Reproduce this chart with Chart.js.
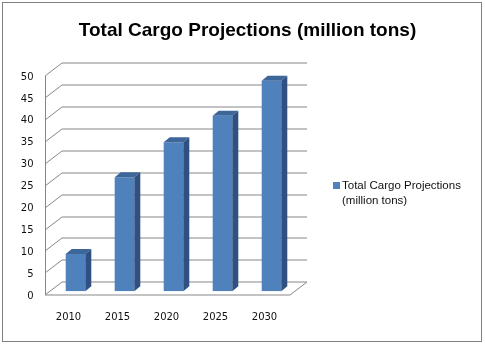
<!DOCTYPE html>
<html>
<head>
<meta charset="utf-8">
<title>Total Cargo Projections</title>
<script src="https://cdn.jsdelivr.net/npm/chart.js@4.4.1/dist/chart.umd.min.js"></script>
<style>
    html, body { margin: 0; padding: 0; background: #fff; }
    #wrap { width: 485px; height: 345px; position: relative; }
</style>
</head>
<body>
<div id="wrap"><canvas id="cargoChart"></canvas></div>
<script>
// Chart data
const years = ['2010', '2015', '2020', '2025', '2030'];
const cargoTons = [8.5, 26, 34, 40, 48];
const yTicks = [0, 5, 10, 15, 20, 25, 30, 35, 40, 45, 50];
const chartTitle = 'Total Cargo Projections (million tons)';
const seriesLabel = 'Total Cargo Projections (million tons)';
const legendLines = ['Total Cargo Projections', '(million tons)'];

// Colours
const faceColor = '#4F81BD';
const topColor = '#3D6699';
const sideColor = '#2F5080';
const gridColor = '#878787';

// 3D offsets (front axis plane, back wall plane, bar depth)
const FRONT = { dx: -6, dy: 3.5 };
const BACK = { dx: 11, dy: -9.5 };
const BAR_DEPTH = { dx: 6, dy: -5 };

// Walls, floor and grid drawn behind the bars
const wallPlugin = {
    id: 'wall3d',
    beforeDatasetsDraw(chart) {
        const { ctx, chartArea: a, scales } = chart;
        const y = scales.y;
        ctx.save();
        ctx.strokeStyle = gridColor;
        ctx.lineWidth = 1;
        ctx.beginPath();
        yTicks.forEach(v => {
            const py = Math.round(y.getPixelForValue(v)) + 0.5;
            ctx.moveTo(a.left + FRONT.dx, py + FRONT.dy);
            ctx.lineTo(a.left + BACK.dx, py + BACK.dy);
            ctx.lineTo(a.right + BACK.dx, py + BACK.dy);
        });
        // front axis line
        const y0 = Math.round(y.getPixelForValue(0)) + 0.5;
        const yMax = Math.round(y.getPixelForValue(50)) + 0.5;
        const fx = Math.round(a.left + FRONT.dx) + 0.5;
        ctx.moveTo(fx, yMax + FRONT.dy);
        ctx.lineTo(fx, y0 + FRONT.dy);
        // floor front edge and right edge
        ctx.moveTo(a.left + FRONT.dx, y0 + FRONT.dy);
        ctx.lineTo(a.right + FRONT.dx, y0 + FRONT.dy);
        ctx.lineTo(a.right + BACK.dx, y0 + BACK.dy);
        ctx.stroke();
        ctx.restore();
    },
    afterDatasetsDraw(chart) {
        // top and side faces of each column
        const { ctx } = chart;
        const meta = chart.getDatasetMeta(0);
        ctx.save();
        meta.data.forEach(bar => {
            const p = bar.getProps(['x', 'y', 'base', 'width'], true);
            const l = p.x - p.width / 2;
            const r = p.x + p.width / 2;
            ctx.fillStyle = topColor;
            ctx.beginPath();
            ctx.moveTo(l, p.y);
            ctx.lineTo(r, p.y);
            ctx.lineTo(r + BAR_DEPTH.dx, p.y + BAR_DEPTH.dy);
            ctx.lineTo(l + BAR_DEPTH.dx, p.y + BAR_DEPTH.dy);
            ctx.closePath();
            ctx.fill();
            ctx.fillStyle = sideColor;
            ctx.beginPath();
            ctx.moveTo(r, p.y);
            ctx.lineTo(r + BAR_DEPTH.dx, p.y + BAR_DEPTH.dy);
            ctx.lineTo(r + BAR_DEPTH.dx, p.base + BAR_DEPTH.dy);
            ctx.lineTo(r, p.base);
            ctx.closePath();
            ctx.fill();
        });
        ctx.restore();
    }
};

// Title, legend and outer frame
const decorPlugin = {
    id: 'decor',
    beforeDraw(chart) {
        const { ctx, width, height } = chart;
        ctx.save();
        ctx.fillStyle = '#fff';
        ctx.fillRect(0, 0, width, height);
        ctx.restore();
    },
    afterDraw(chart) {
        const { ctx } = chart;
        ctx.save();
        ctx.strokeStyle = '#808080';
        ctx.lineWidth = 1;
        ctx.strokeRect(2.5, 2.5, 479, 339);

        ctx.fillStyle = '#000';
        ctx.font = 'bold 19px "Liberation Sans", Arial, sans-serif';
        ctx.textAlign = 'center';
        ctx.textBaseline = 'alphabetic';
        ctx.fillText(chartTitle, 247.5, 36);

        ctx.fillStyle = chart.data.datasets[0].backgroundColor;
        ctx.fillRect(333, 182, 7, 7);
        ctx.fillStyle = '#111';
        ctx.font = '11.5px "Liberation Sans", Arial, sans-serif';
        ctx.textAlign = 'left';
        ctx.textBaseline = 'middle';
        legendLines.forEach((line, i) => ctx.fillText(line, 342, 186 + i * 14.5));
        ctx.restore();
    }
};

const ctx = document.getElementById('cargoChart').getContext('2d');
new Chart(ctx, {
    type: 'bar',
    data: {
        labels: years,
        datasets: [{
            label: seriesLabel,
            data: cargoTons,
            backgroundColor: faceColor,
            borderWidth: 0,
            categoryPercentage: 1,
            barPercentage: 0.4
        }]
    },
    options: {
        responsive: true,
        maintainAspectRatio: false,
        animation: false,
        devicePixelRatio: 1,
        layout: { padding: { top: 72, right: 189, bottom: 0, left: 0 } },
        plugins: {
            legend: { display: false },
            title: { display: false },
            tooltip: { enabled: false }
        },
        scales: {
            x: {
                grid: { display: false, drawTicks: false },
                border: { display: false },
                ticks: {
                    color: '#111',
                    font: { family: '"DejaVu Sans", Verdana, sans-serif', size: 10 },
                    padding: 20,
                    labelOffset: -7,
                    maxRotation: 0
                },
                afterFit: (scale) => { scale.height = 53.7; }
            },
            y: {
                min: 0,
                max: 50,
                grid: { display: false, drawTicks: false },
                border: { display: false },
                ticks: {
                    stepSize: 5,
                    color: '#111',
                    font: { family: '"DejaVu Sans", Verdana, sans-serif', size: 10 },
                    padding: 17.5,
                    labelOffset: 5
                },
                afterFit: (scale) => { scale.width = 51; }
            }
        }
    },
    plugins: [wallPlugin, decorPlugin]
});
</script>
</body>
</html>
